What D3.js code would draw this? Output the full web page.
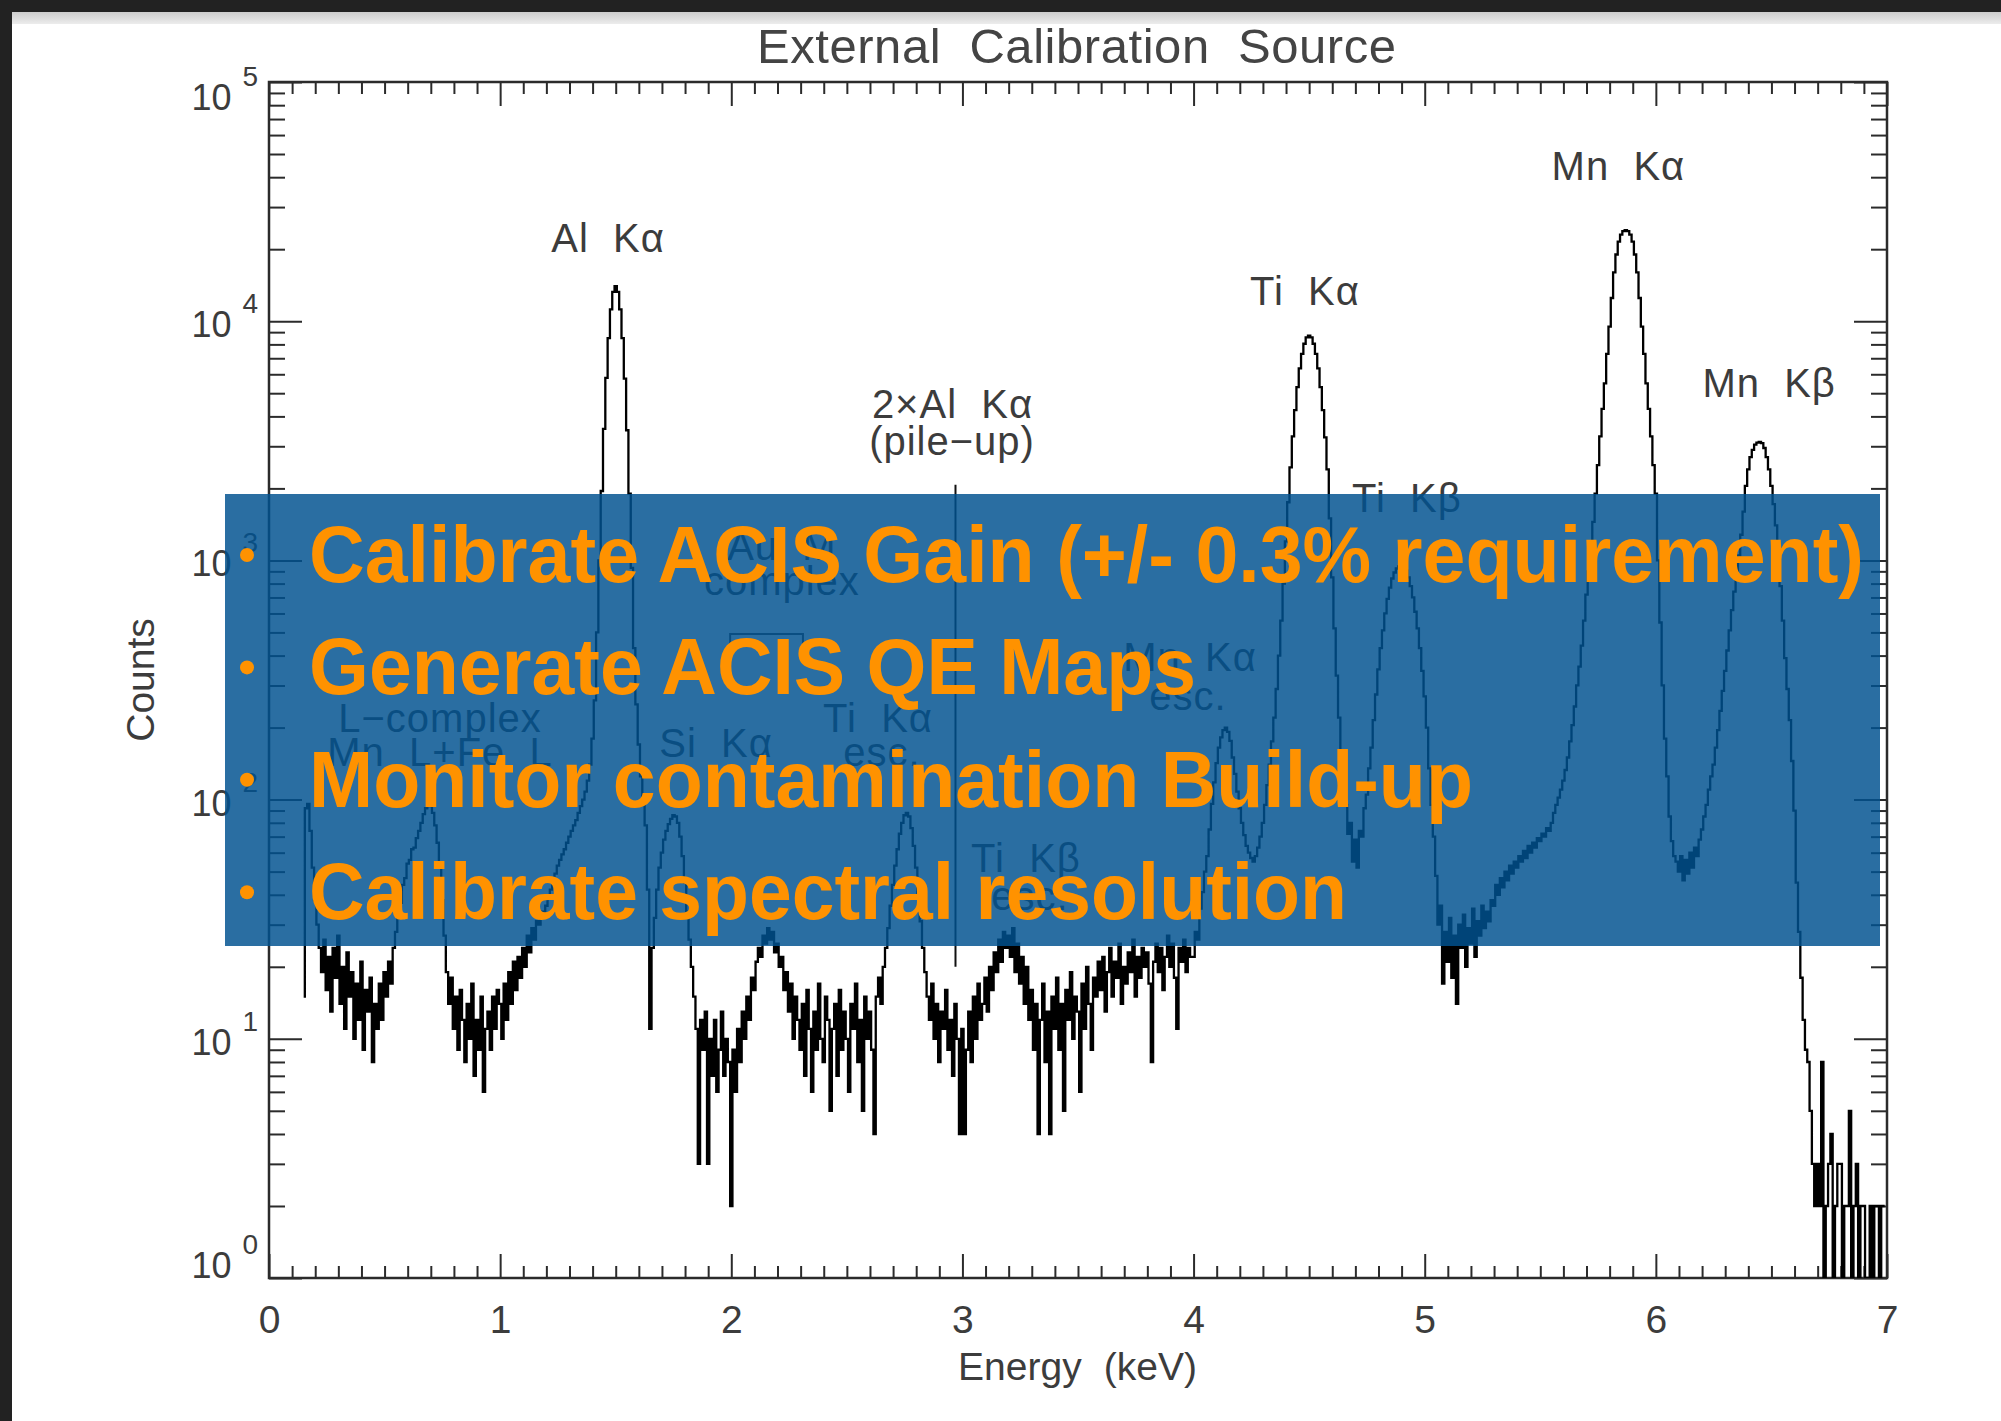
<!DOCTYPE html>
<html>
<head>
<meta charset="utf-8">
<script src="https://cdn.jsdelivr.net/npm/d3@7"></script>
<style>
  html, body { margin: 0; padding: 0; background: #fff; }
  svg { display: block; }
  text { font-family: "Liberation Sans", Arial, sans-serif; }
</style>
</head>
<body>
<svg id="chart" width="2001" height="1421"></svg>
<script>
// ---- Spectrum: counts per 0.01 keV channel, one array per keV segment ----
const channelWidth = 0.01;
const segmentStart = [0.15, 1, 2, 3, 4, 5, 6];

const counts0 = [15, 92, 96, 74, 52, 38, 30, 24, 19, 26,
  16, 22, 13, 24, 18, 27, 14, 20, 11, 23,
  15, 19, 10, 17, 12, 21, 9, 16, 13, 18,
  8, 14, 11, 17, 12, 19, 15, 21, 17, 24,
  28, 35, 37, 44, 47, 54, 56, 62, 63, 69,
  74, 80, 87, 92, 95, 94, 88, 78, 66, 52,
  38, 27, 19, 14, 18, 11, 15, 9, 16, 12,
  8, 14, 10, 17, 7, 12, 9, 15, 6, 11,
  13, 9, 15, 11, 16];

const counts1 = [14, 10, 17, 12, 19, 14, 21, 16, 22, 18,
  24, 20, 27, 23, 29, 26, 31, 30, 34, 33,
  36, 39, 42, 46, 49, 53, 56, 59, 62, 66,
  70, 74, 78, 82, 88, 94, 100, 108, 120, 140,
  180, 260, 500, 1000, 1950, 3550, 5800, 8500, 11200, 13250,
  14000, 13250, 11200, 8500, 5750, 3500, 1900, 930, 430, 250,
  170, 125, 95, 78, 42, 11, 24, 32, 42, 52,
  60, 68, 74, 79, 83, 86, 85, 80, 70, 58,
  45, 34, 26, 20, 15, 11, 3, 12, 9, 13,
  3, 10, 7, 12, 6, 9, 13, 7, 10, 8];

const counts2 = [2, 9, 6, 11, 8, 13, 10, 15, 12, 18,
  16, 21, 24, 22, 27, 25, 29, 26, 28, 23,
  25, 20, 22, 16, 19, 13, 17, 10, 15, 12,
  9, 14, 7, 16, 11, 6, 13, 9, 17, 10,
  8, 15, 12, 5, 11, 14, 7, 16, 9, 13,
  10, 6, 14, 11, 17, 8, 12, 5, 15, 10,
  13, 9, 4, 15, 18, 14, 20, 24, 29, 36,
  44, 53, 62, 72, 80, 86, 88, 85, 76, 64,
  52, 40, 31, 24, 19, 15, 12, 17, 10, 14,
  8, 13, 11, 16, 9, 12, 7, 14, 10, 4];

const counts3 = [11, 4, 9, 13, 8, 15, 10, 17, 12, 14,
  18, 13, 20, 16, 23, 19, 26, 21, 28, 24,
  27, 22, 29, 19, 25, 17, 22, 14, 20, 12,
  16, 9, 14, 4, 12, 17, 8, 13, 4, 15,
  11, 18, 9, 14, 5, 16, 12, 19, 10, 15,
  13, 6, 17, 11, 20, 14, 9, 18, 15, 21,
  16, 22, 13, 19, 24, 15, 21, 18, 25, 14,
  20, 17, 23, 19, 26, 15, 22, 18, 24, 20,
  23, 17, 8, 21, 25, 19, 24, 16, 22, 27,
  20, 25, 18, 11, 24, 21, 26, 19, 24, 22];

const counts4 = [22, 28, 26, 35, 41, 50, 58, 75, 96, 118,
  142, 165, 182, 195, 200, 192, 176, 150, 128, 108,
  92, 80, 71, 64, 60, 57, 55, 58, 63, 70,
  80, 95, 115, 140, 175, 220, 290, 400, 560, 800,
  1200, 1750, 2450, 3300, 4250, 5300, 6350, 7300, 8050, 8550,
  8700, 8550, 8050, 7300, 6350, 5300, 4250, 3270, 2400, 1500,
  850, 520, 330, 220, 160, 125, 95, 72, 80, 55,
  68, 52, 74, 70, 92, 105, 135, 165, 215, 275,
  350, 430, 510, 600, 690, 770, 840, 890, 925, 945,
  950, 940, 905, 850, 780, 700, 610, 520, 430, 345];

const counts5 = [270, 200, 135, 95, 70, 48, 30, 36, 17, 28,
  21, 32, 18, 27, 14, 30, 24, 33, 20, 29,
  25, 35, 22, 31, 27, 36, 29, 34, 31, 38,
  36, 44, 40, 47, 43, 50, 46, 53, 49, 55,
  52, 58, 55, 61, 57, 64, 60, 66, 63, 69,
  67, 72, 70, 76, 74, 80, 88, 95, 102, 110,
  120, 133, 150, 175, 205, 245, 300, 360, 440, 560,
  720, 900, 1150, 1450, 1900, 2500, 3300, 4300, 5500, 7300,
  9500, 12500, 16000, 19000, 21500, 23000, 23800, 24000, 23800, 23000,
  21500, 19000, 16000, 12500, 9500, 7300, 5500, 4300, 3300, 2500];

const counts6 = [1900, 1000, 550, 300, 180, 125, 85, 67, 58, 55,
  50, 58, 46, 56, 49, 60, 52, 63, 58, 68,
  75, 85, 95, 110, 125, 140, 165, 195, 235, 285,
  345, 420, 510, 620, 740, 880, 1050, 1280, 1600, 2050,
  2400, 2700, 2900, 3050, 3110, 3130, 3090, 2950, 2700, 2400,
  2050, 1720, 1400, 1080, 780, 560, 390, 290, 215, 145,
  90, 45, 28, 18, 12, 9, 8, 5, 3, 2,
  3, 2, 8, 1, 2, 3, 4, 1, 2, 3,
  3, 1, 2, 2, 5, 1, 2, 3, 1, 2,
  2, 1, 1, 2, 1, 2, 2, 1, 2, 2];

const segments = [counts0, counts1, counts2, counts3, counts4, counts5, counts6];

// ---- Axes ----
const energyTicks = [0, 1, 2, 3, 4, 5, 6, 7];
const countDecades = [0, 1, 2, 3, 4, 5];

// ---- Line identifications (anchored at energy / counts of the label baseline) ----
const lineLabels = [
  { text: "Al  Kα",      energy: 1.467, counts: 19450 },
  { text: "Ti  Kα",      energy: 4.482, counts: 11700 },
  { text: "Mn  Kα",      energy: 5.838, counts: 38900 },
  { text: "Mn  Kβ",      energy: 6.490, counts: 4820 },
  { text: "2×Al  Kα",    energy: 2.957, counts: 3940 },
  { text: "(pile−up)",   energy: 2.955, counts: 2760 },
  { text: "Ti  Kβ",      energy: 4.923, counts: 1590 },
  { text: "L−complex",   energy: 0.740, counts: 192 },
  { text: "Mn  L+Fe  L", energy: 0.740, counts: 138 },
  { text: "Au  M",       energy: 2.219, counts: 1005 },
  { text: "complex",     energy: 2.219, counts: 716 },
  { text: "Si  Kα",      energy: 1.934, counts: 151 },
  { text: "Ti  Kα",      energy: 2.635, counts: 192 },
  { text: "esc.",        energy: 2.652, counts: 138 },
  { text: "Mn  Kα",      energy: 3.985, counts: 345 },
  { text: "esc.",        energy: 3.976, counts: 237 },
  { text: "Ti  Kβ",      energy: 3.275, counts: 50 },
  { text: "esc.",        energy: 3.292, counts: 34.5 }
];
const auBracket = { from: 1.995, to: 2.31, counts: 492 };
const pileupMarker = { energy: 2.97, top: 2070, bottom: 20 };

const bulletPoints = [
  "Calibrate ACIS Gain (+/- 0.3% requirement)",
  "Generate ACIS QE Maps",
  "Monitor contamination Build-up",
  "Calibrate spectral resolution"
];
const bulletWidths = [1555, 887, 1164, 1038];

// ---- Layout ----
const W = 2001, H = 1421;
const plot = { left: 269, right: 1887, top: 82, bottom: 1278 };
const ink = "#2b2b2b", textInk = "#3c3c3c";

const svg = d3.select("#chart");

// page background and window chrome
svg.append("rect").attr("width", W).attr("height", H).attr("fill", "#fff");
const defs = svg.append("defs");
const grad = defs.append("linearGradient").attr("id", "strip").attr("x1", 0).attr("y1", 0).attr("x2", 0).attr("y2", 1);
grad.append("stop").attr("offset", "0%").attr("stop-color", "#cdcdcd");
grad.append("stop").attr("offset", "100%").attr("stop-color", "#ececec");
svg.append("rect").attr("x", 12).attr("y", 12).attr("width", W - 12).attr("height", 12).attr("fill", "url(#strip)");
svg.append("rect").attr("x", 0).attr("y", 0).attr("width", W).attr("height", 12).attr("fill", "#222");
svg.append("rect").attr("x", 0).attr("y", 0).attr("width", 12).attr("height", H).attr("fill", "#222");

const x = d3.scaleLinear().domain([0, 7]).range([plot.left, plot.right]);
const y = d3.scaleLog().domain([1, 1e5]).range([plot.bottom, plot.top]);

const minorEnergy = d3.range(0, 71).map(i => i / 10).filter(v => Math.abs(v - Math.round(v)) > 1e-6);
const minorCounts = [];
countDecades.slice(0, -1).forEach(d => { for (let k = 2; k <= 9; k++) minorCounts.push(k * Math.pow(10, d)); });

function styleAxis(g) {
  g.select(".domain").remove();
  g.selectAll(".tick line").attr("stroke", ink).attr("stroke-width", 2);
}

// bottom axis (ticks inward, labels below)
svg.append("g").attr("transform", `translate(0,${plot.bottom})`)
  .call(d3.axisBottom(x).tickValues(energyTicks).tickSizeInner(-24).tickSizeOuter(0).tickPadding(27).tickFormat(d3.format("d")))
  .call(styleAxis)
  .call(g => g.selectAll(".tick text").attr("font-size", 39).attr("fill", textInk)
    .attr("font-family", '"Liberation Sans", Arial, sans-serif'));
svg.append("g").attr("transform", `translate(0,${plot.bottom})`)
  .call(d3.axisBottom(x).tickValues(minorEnergy).tickSizeInner(-12).tickSizeOuter(0).tickFormat(""))
  .call(styleAxis);
// top axis
svg.append("g").attr("transform", `translate(0,${plot.top})`)
  .call(d3.axisTop(x).tickValues(energyTicks).tickSizeInner(-24).tickSizeOuter(0).tickFormat(""))
  .call(styleAxis);
svg.append("g").attr("transform", `translate(0,${plot.top})`)
  .call(d3.axisTop(x).tickValues(minorEnergy).tickSizeInner(-12).tickSizeOuter(0).tickFormat(""))
  .call(styleAxis);
// left and right axes
const decadeValues = countDecades.map(d => Math.pow(10, d));
svg.append("g").attr("transform", `translate(${plot.left},0)`)
  .call(d3.axisLeft(y).tickValues(decadeValues).tickSizeInner(-33).tickSizeOuter(0).tickFormat(""))
  .call(styleAxis);
svg.append("g").attr("transform", `translate(${plot.left},0)`)
  .call(d3.axisLeft(y).tickValues(minorCounts).tickSizeInner(-16).tickSizeOuter(0).tickFormat(""))
  .call(styleAxis);
svg.append("g").attr("transform", `translate(${plot.right},0)`)
  .call(d3.axisRight(y).tickValues(decadeValues).tickSizeInner(-33).tickSizeOuter(0).tickFormat(""))
  .call(styleAxis);
svg.append("g").attr("transform", `translate(${plot.right},0)`)
  .call(d3.axisRight(y).tickValues(minorCounts).tickSizeInner(-16).tickSizeOuter(0).tickFormat(""))
  .call(styleAxis);

// y tick labels with exponents
const yLab = svg.append("g").attr("fill", textInk);
countDecades.forEach(d => {
  const base = Math.min(Math.max(y(Math.pow(10, d)) + 16, plot.top + 28), plot.bottom);
  const t = yLab.append("text").attr("x", 258).attr("y", base).attr("text-anchor", "end").attr("font-size", 36);
  t.append("tspan").text("10");
  t.append("tspan").attr("dx", 11).attr("dy", -24).attr("font-size", 28).text(String(d));
});

// plot frame
svg.append("rect").attr("x", plot.left).attr("y", plot.top)
  .attr("width", plot.right - plot.left).attr("height", plot.bottom - plot.top)
  .attr("fill", "none").attr("stroke", ink).attr("stroke-width", 2.5);

// titles
svg.append("text").attr("x", 757).attr("y", 63).attr("font-size", 49).attr("fill", "#444")
  .attr("textLength", 639).attr("lengthAdjust", "spacing").style("white-space", "pre")
  .text("External  Calibration  Source");
svg.append("text").attr("x", 958).attr("y", 1380).attr("font-size", 39).attr("fill", textInk)
  .attr("textLength", 239).attr("lengthAdjust", "spacing").style("white-space", "pre")
  .text("Energy  (keV)");
svg.append("text").attr("transform", `translate(154,${(plot.top + plot.bottom) / 2}) rotate(-90)`)
  .attr("text-anchor", "middle").attr("font-size", 39).attr("fill", textInk).text("Counts");

// spectrum
const points = [];
segments.forEach((arr, si) => arr.forEach((c, i) => points.push({ e: segmentStart[si] + i * channelWidth, c })));
defs.append("clipPath").attr("id", "plotClip").append("rect")
  .attr("x", plot.left).attr("y", plot.top).attr("width", plot.right - plot.left).attr("height", plot.bottom - plot.top);
const line = d3.line().x(d => x(d.e)).y(d => y(Math.max(d.c, 1))).curve(d3.curveStep);
svg.append("path").datum(points).attr("clip-path", "url(#plotClip)")
  .attr("fill", "none").attr("stroke", "#000").attr("stroke-width", 2.3).attr("stroke-linejoin", "miter")
  .attr("d", line);

// line identifications
svg.append("g").selectAll("text").data(lineLabels).join("text")
  .attr("x", d => x(d.energy)).attr("y", d => y(d.counts))
  .attr("text-anchor", "middle").attr("font-size", 40).attr("letter-spacing", 1)
  .attr("fill", textInk).style("white-space", "pre").text(d => d.text);
svg.append("path")
  .attr("d", `M${x(auBracket.from)},${y(auBracket.counts) + 10}V${y(auBracket.counts)}H${x(auBracket.to)}V${y(auBracket.counts) + 10}`)
  .attr("fill", "none").attr("stroke", textInk).attr("stroke-width", 2);
svg.append("line")
  .attr("x1", x(pileupMarker.energy)).attr("x2", x(pileupMarker.energy))
  .attr("y1", y(pileupMarker.top)).attr("y2", y(pileupMarker.bottom))
  .attr("stroke", "#111").attr("stroke-width", 2);

// overlay panel with bullet list
svg.append("rect").attr("x", 225).attr("y", 494).attr("width", 1655).attr("height", 452)
  .attr("fill", "rgb(0,82,144)").attr("fill-opacity", 0.835);
const orange = "#FF9200";
const bullets = svg.append("g");
bulletPoints.forEach((t, i) => {
  const base = 582 + i * 112.4;
  bullets.append("circle").attr("cx", 247).attr("cy", base - 27).attr("r", 7).attr("fill", orange);
  bullets.append("text").attr("x", 309).attr("y", base).attr("font-size", 80).attr("font-weight", "bold")
    .attr("fill", orange).attr("textLength", bulletWidths[i]).attr("lengthAdjust", "spacingAndGlyphs")
    .text(t);
});
</script>
</body>
</html>
